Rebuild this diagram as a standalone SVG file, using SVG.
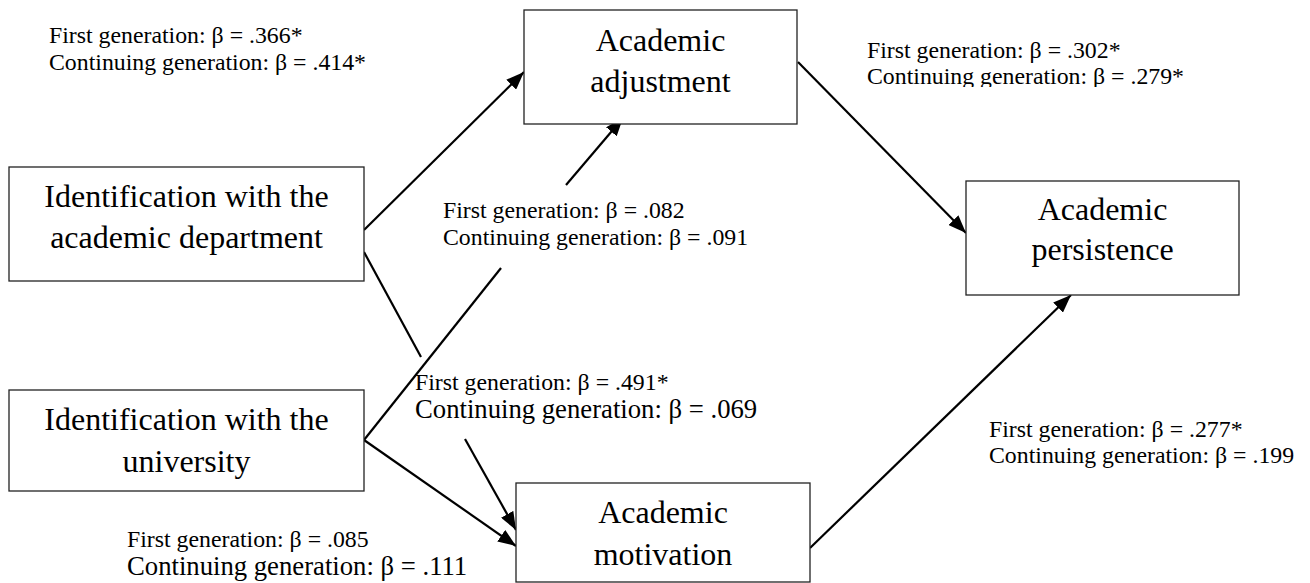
<svg xmlns="http://www.w3.org/2000/svg" width="1310" height="583" viewBox="0 0 1310 583">
<style>
.box{fill:#fff;stroke:#222;stroke-width:1.3}
.nt{text-anchor:middle}
.cn{stroke:#000;stroke-width:2.2;fill:none}
</style>
<defs>
<marker id="ah" markerUnits="userSpaceOnUse" markerWidth="20" markerHeight="14" refX="18" refY="7" orient="auto">
<path d="M0,0 L18,7 L0,14 Z" fill="#000"/>
</marker>
<clipPath id="clipTR"><rect x="860" y="60" width="340" height="27"/></clipPath>
</defs>
<rect width="1310" height="583" fill="#fff"/>
<g id="connectors">
<line class="cn" x1="364" y1="230" x2="524" y2="72" marker-end="url(#ah)"/>
<line class="cn" x1="798" y1="62" x2="966" y2="233" marker-end="url(#ah)"/>
<line class="cn" x1="810" y1="548" x2="1071" y2="295" marker-end="url(#ah)"/>
<line class="cn" x1="364" y1="440" x2="501" y2="268"/>
<line class="cn" x1="566" y1="185" x2="623" y2="118" marker-end="url(#ah)"/>
<line class="cn" x1="364" y1="252" x2="421" y2="357"/>
<line class="cn" x1="465" y1="439" x2="516" y2="530" marker-end="url(#ah)"/>
<line class="cn" x1="364" y1="440" x2="516" y2="546" marker-end="url(#ah)"/>
</g>
<g font-family="Liberation Serif, serif" font-size="32" fill="#000">
<g id="node-dept">
<rect class="box" x="9" y="167" width="355" height="114"/>
<text class="nt" x="186.5" y="207">Identification with the</text>
<text class="nt" x="186.5" y="248">academic department</text>
</g>
<g id="node-univ">
<rect class="box" x="9" y="390" width="355" height="101"/>
<text class="nt" x="186.5" y="430">Identification with the</text>
<text class="nt" x="186.5" y="472">university</text>
</g>
<g id="node-adjust">
<rect class="box" x="524" y="10" width="273" height="114"/>
<text class="nt" x="660.5" y="51">Academic</text>
<text class="nt" x="660.5" y="92">adjustment</text>
</g>
<g id="node-persist">
<rect class="box" x="966" y="181" width="273" height="114"/>
<text class="nt" x="1102.5" y="220">Academic</text>
<text class="nt" x="1102.5" y="260">persistence</text>
</g>
<g id="node-motiv">
<rect class="box" x="516" y="483" width="294" height="99"/>
<text class="nt" x="663" y="523">Academic</text>
<text class="nt" x="663" y="565">motivation</text>
</g>
</g>
<g id="labels" font-family="Liberation Serif, serif" font-size="23.8" fill="#000">
<text x="49" y="43">First generation: β = .366*</text>
<text x="49" y="70">Continuing generation: β = .414*</text>
<text x="867" y="58">First generation: β = .302*</text>
<text x="867" y="84" clip-path="url(#clipTR)">Continuing generation: β = .279*</text>
<text x="443" y="218">First generation: β = .082</text>
<text x="443" y="245">Continuing generation: β = .091</text>
<text x="415" y="390">First generation: β = .491*</text>
<text x="415" y="418" font-size="26.7">Continuing generation: β = .069</text>
<text x="989" y="437">First generation: β = .277*</text>
<text x="989" y="463">Continuing generation: β = .199</text>
<text x="127" y="547">First generation: β = .085</text>
<text x="127" y="575" font-size="26.7">Continuing generation: β = .111</text>
</g>
</svg>
